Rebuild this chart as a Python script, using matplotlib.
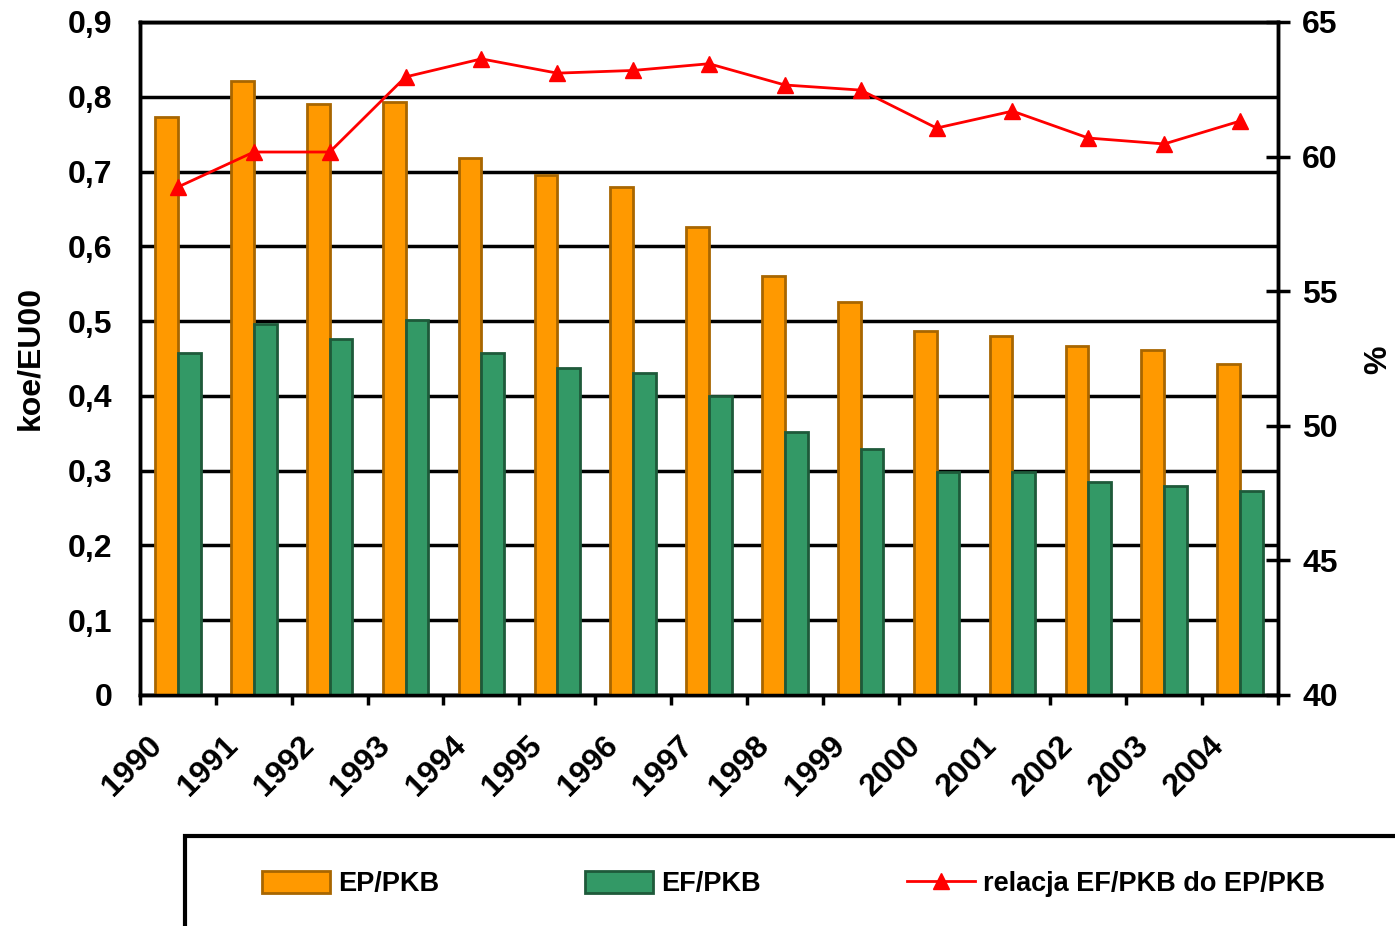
import numpy as np
import matplotlib
matplotlib.use("Agg")
import matplotlib.pyplot as plt
import matplotlib.transforms as mtransforms
from matplotlib.patches import Rectangle

plt.rcParams['font.family'] = ['Liberation Sans', 'DejaVu Sans']
plt.rcParams['font.weight'] = 'bold'

years = [str(y) for y in range(1990, 2005)]
ep_pkb = [0.773, 0.821, 0.790, 0.793, 0.718, 0.695, 0.679, 0.626, 0.560,
          0.526, 0.487, 0.480, 0.467, 0.461, 0.442]
ef_pkb = [0.458, 0.496, 0.476, 0.501, 0.458, 0.437, 0.431, 0.400, 0.352,
          0.329, 0.298, 0.298, 0.285, 0.279, 0.273]
relacja = [58.87, 60.17, 60.17, 62.96, 63.63, 63.10, 63.20, 63.45, 62.66,
           62.47, 61.06, 61.69, 60.69, 60.47, 61.32]

left_ticks = np.arange(0, 0.91, 0.1)
left_labels = ['0'] + [f'{v:.1f}'.replace('.', ',') for v in left_ticks[1:]]
right_ticks = [40, 45, 50, 55, 60, 65]

fig = plt.figure(figsize=(13.95, 9.26), dpi=100)
ax = fig.add_axes([140/1395, 1 - 695/926, 1138/1395, 673/926])

x = np.arange(len(years))
w = 0.30
ax.bar(x - w/2, ep_pkb, w, color='#FF9900', edgecolor='#A86600',
       linewidth=2, label='EP/PKB', zorder=3)
ax.bar(x + w/2, ef_pkb, w, color='#339966', edgecolor='#1E5A3A',
       linewidth=2, label='EF/PKB', zorder=3)

ax.set_xlim(-0.5, len(years) - 0.5)
ax.set_ylim(0, 0.9)
ax.set_yticks(left_ticks)
ax.set_yticklabels(left_labels)
ax.yaxis.grid(True, color='black', linewidth=2.5)
ax.set_axisbelow(True)
ax.tick_params(axis='y', length=0, pad=20, labelsize=23)

ax.set_xticks(x)
ax.set_xticklabels(years, rotation=45, ha='right', va='center',
                   rotation_mode='anchor')
ax.set_xticks(np.arange(-0.5, len(years), 1), minor=True)
ax.tick_params(axis='x', which='major', length=0, pad=33, labelsize=23)
ax.tick_params(axis='x', which='minor', length=7, width=2.5, direction='out')
offset = mtransforms.ScaledTranslation(-20/100, 0, fig.dpi_scale_trans)
for lab in ax.get_xticklabels():
    lab.set_transform(lab.get_transform() + offset)

for s in ax.spines.values():
    s.set_linewidth(2.5)

ax2 = ax.twinx()
ax2.plot(x, relacja, color='#FF0000', linewidth=2, marker='^',
         markersize=12, label='relacja EF/PKB do EP/PKB')
ax2.set_ylim(40, 65)
ax2.set_yticks(right_ticks)
ax2.tick_params(axis='y', direction='inout', length=17, width=2.5,
                pad=9, labelsize=23)
for s in ax2.spines.values():
    s.set_linewidth(2.5)

fig.text(30/1395, 1 - 358/926, 'koe/EU00', rotation=90, ha='center',
         va='center', fontsize=23)
fig.text(1378/1395, 1 - 360/926, '%', rotation=90, ha='center',
         va='center', fontsize=23)

# legend box, cut off by the figure edge like in the source
fig.add_artist(Rectangle((185/1395, -0.1), 1.0, 0.1 + 90/926,
                         transform=fig.transFigure, fill=False,
                         edgecolor='black', linewidth=3, clip_on=False))

h1, l1 = ax.get_legend_handles_labels()
h2, l2 = ax2.get_legend_handles_labels()
fig.legend(h1 + h2, l1 + l2, loc='center left',
           bbox_to_anchor=(262/1395, 1 - 884/926), ncol=3, frameon=False,
           fontsize=19.5, handlelength=2.5, handleheight=0.9,
           handletextpad=0.3, columnspacing=5.4, borderpad=0,
           borderaxespad=0)

fig.savefig('out.png', dpi=100)
